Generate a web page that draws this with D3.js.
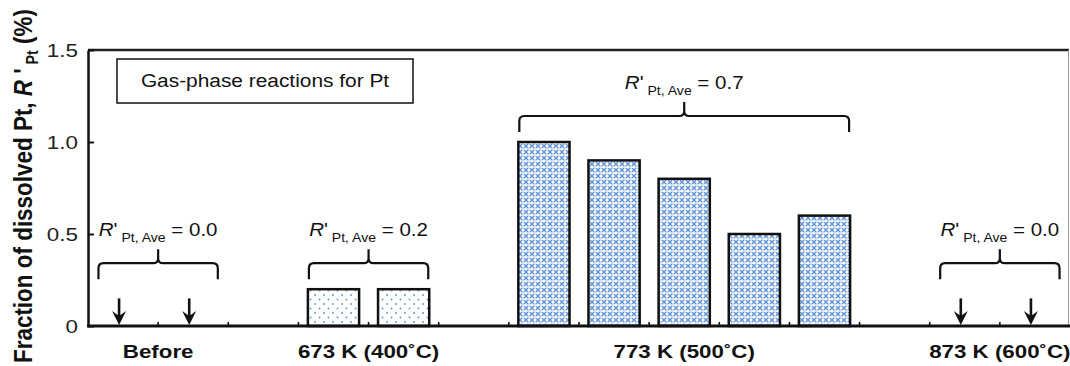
<!DOCTYPE html>
<html>
<head>
<meta charset="utf-8">
<script src="https://cdn.jsdelivr.net/npm/d3@7"></script>
<style>
  html, body { margin: 0; padding: 0; background: #fff; }
  svg { display: block; font-family: "Liberation Sans", Arial, sans-serif; }
</style>
</head>
<body>
<svg id="chart" width="1070" height="366"></svg>
<script>
// data
var groups   = ["Before", "673 K (400˚C)", "773 K (500˚C)", "873 K (600˚C)"];
var before   = [0, 0];
var k673     = [0.2, 0.2];
var k773     = [1.0, 0.9, 0.8, 0.5, 0.6];
var k873     = [0, 0];
var averages = ["0.0", "0.2", "0.7", "0.0"];
var fills    = ["none", "dots", "lattice", "none"];
var yTicks   = [0, 0.5, 1.0, 1.5];
var yTickLabels = ["0", "0.5", "1.0", "1.5"];

var groupValues = [before, k673, k773, k873];

var svg = d3.select("#chart");

var margin = {top: 50, left: 88},
    width  = 982,
    height = 276;

// the original figure is drawn a little wide, so text is stretched sideways
function wideText(parent, x, y, sx) {
	return parent.append("g")
		.attr("transform", `translate(${x}, ${y}) scale(${sx}, 1)`)
		.append("text");
}

// one slot per sample plus one empty slot between groups
var slots = [];
groupValues.forEach(function(vals, gi) {
	vals.forEach(function(v, i) { slots.push({key: gi + "-" + i, group: gi, value: v}); });
	if (gi < groupValues.length - 1) slots.push({key: "gap-" + gi, group: -1, value: null});
});

var x = d3.scaleBand().domain(slots.map(function(d) { return d.key; })).range([0, width]).padding(0);
var y = d3.scaleLinear().domain([0, 1.5]).range([height, 0]);

var barW = x.bandwidth() * 0.73,
    barOff = (x.bandwidth() - barW) / 2;

/* patterns */
var defs = svg.append("defs");
var pd = defs.append("pattern").attr("id", "dots").attr("patternUnits", "userSpaceOnUse")
	.attr("width", 9).attr("height", 9);
pd.append("rect").attr("width", 9).attr("height", 9).attr("fill", "#fff");
pd.append("circle").attr("cx", 2).attr("cy", 2).attr("r", 1).attr("fill", "#6e98d4");
pd.append("circle").attr("cx", 6.5).attr("cy", 6.5).attr("r", 1).attr("fill", "#6e98d4");

var pl = defs.append("pattern").attr("id", "lattice").attr("patternUnits", "userSpaceOnUse")
	.attr("width", 6).attr("height", 6);
pl.append("rect").attr("width", 6).attr("height", 6).attr("fill", "#fff");
pl.append("path").attr("d", "M0,0L6,6M6,0L0,6M-1,5L1,7M5,-1L7,1M-1,1L1,-1M5,7L7,5")
	.attr("stroke", "#5f93d8").attr("stroke-width", 1.4);
pl.append("path").attr("d", "M3,1.6V4.4M1.6,3H4.4")
	.attr("stroke", "#fff").attr("stroke-width", 0.9);

var g = svg.append("g").attr("transform", `translate(${margin.left}, ${margin.top})`);

// frame: top and right
g.append("line").attr("x1", 0).attr("x2", width - 1).attr("y1", 0).attr("y2", 0)
	.style("stroke", "#222").style("stroke-width", 2.5);
g.append("line").attr("x1", width - 1.5).attr("x2", width - 1.5).attr("y1", 0).attr("y2", height)
	.style("stroke", "#999").style("stroke-width", 1);

// bars
var bars = slots.filter(function(d) { return d.group >= 0 && d.value > 0; });
g.selectAll(".bar").data(bars).enter().append("rect")
	.attr("class", "bar")
	.attr("x", function(d) { return x(d.key) + barOff; })
	.attr("y", function(d) { return y(d.value); })
	.attr("width", barW)
	.attr("height", function(d) { return y(0) - y(d.value); })
	.attr("fill", function(d) { return "url(#" + fills[d.group] + ")"; })
	.attr("stroke", "#111")
	.attr("stroke-width", 2.5);

// arrows for zero samples
var zeros = slots.filter(function(d) { return d.group >= 0 && d.value === 0; });
zeros.forEach(function(d) {
	var cx = x(d.key) + x.bandwidth() / 2 - 4,
	    y0 = y(0.15), y1 = y(0) - 1;
	g.append("line").attr("x1", cx).attr("x2", cx).attr("y1", y0).attr("y2", y1 - 8)
		.style("stroke", "#111").style("stroke-width", 2.6);
	g.append("path")
		.attr("d", `M${cx - 7},${y1 - 14}L${cx},${y1}L${cx + 7},${y1 - 14}L${cx},${y1 - 9}Z`)
		.attr("fill", "#111");
});

// braces and average labels
groupValues.forEach(function(vals, gi) {
	var gs = slots.filter(function(d) { return d.group === gi; });
	var x1 = x(gs[0].key) + barOff + 1,
	    x2 = x(gs[gs.length - 1].key) + barOff + barW - 1,
	    xm = (x1 + x2) / 2;
	var base = y(Math.max(d3.max(vals), 0.2));
	var yEnd = base - 10, yTop = base - 26, yPeak = base - 40, r = 5;
	var p = `M${x1},${yEnd}L${x1},${yTop + r}Q${x1},${yTop} ${x1 + r},${yTop}` +
		`L${xm - r},${yTop}Q${xm},${yTop} ${xm},${yTop - r}L${xm},${yPeak}` +
		`M${xm},${yTop - r}Q${xm},${yTop} ${xm + r},${yTop}` +
		`L${x2 - r},${yTop}Q${x2},${yTop} ${x2},${yTop + r}L${x2},${yEnd}`;
	g.append("path").attr("d", p).attr("fill", "none")
		.style("stroke", "#111").style("stroke-width", 2.2);

	var t = wideText(g, xm, base - 53, 1.08)
		.style("text-anchor", "middle")
		.style("font-size", "19px")
		.style("fill", "#111");
	t.append("tspan").style("font-style", "italic").text("R");
	t.append("tspan").text("'");
	t.append("tspan").attr("dy", 6).style("font-size", "13px").text(" Pt, Ave");
	t.append("tspan").attr("dy", -6).text(" = " + averages[gi]);
});

// legend box
g.append("rect").attr("x", 29).attr("y", 9).attr("width", 296).attr("height", 44)
	.attr("fill", "#fff").attr("stroke", "#111").attr("stroke-width", 1.5);
wideText(g, 177, 37, 1.16)
	.style("text-anchor", "middle").style("font-size", "18px").style("fill", "#111")
	.text("Gas-phase reactions for Pt");

// y axis
var yAxis = g.append("g")
	.call(d3.axisLeft(y).tickValues(yTicks).tickSizeInner(-6).tickSizeOuter(0).tickFormat(""));
yAxis.select(".domain").style("stroke", "#111").style("stroke-width", 2.5);
yAxis.selectAll(".tick line").style("stroke", "#111").style("stroke-width", 2);
yTicks.forEach(function(v, i) {
	wideText(g, -10, y(v) + 7, 1.18)
		.style("text-anchor", "end")
		.style("font-size", "19px")
		.style("fill", "#222")
		.text(yTickLabels[i]);
});

// x axis: small ticks at slot boundaries, group labels centred under groups
var bounds = slots.slice(1).map(function(d) { return x(d.key); });
var xAxis = g.append("g").attr("transform", `translate(0, ${height})`);
xAxis.append("line").attr("x1", -1).attr("x2", width).attr("y1", 0).attr("y2", 0)
	.style("stroke", "#111").style("stroke-width", 3);
xAxis.selectAll(".mtick").data(bounds).enter().append("line")
	.attr("x1", function(d) { return d; }).attr("x2", function(d) { return d; })
	.attr("y1", -1).attr("y2", -4)
	.style("stroke", "#111").style("stroke-width", 1.6);

groups.forEach(function(name, gi) {
	var gs = slots.filter(function(d) { return d.group === gi; });
	var cx = (x(gs[0].key) + x(gs[gs.length - 1].key) + x.bandwidth()) / 2;
	wideText(xAxis, cx, 32, 1.24)
		.style("text-anchor", "middle")
		.style("font-size", "18px")
		.style("font-weight", "bold")
		.style("fill", "#111")
		.text(name);
});

// y axis title
var yt = svg.append("g")
	.attr("transform", `translate(32, 186) scale(1.2, 1.02) rotate(-90)`)
	.append("text")
	.style("text-anchor", "middle")
	.style("font-size", "22px")
	.style("font-weight", "bold")
	.style("fill", "#111");
yt.append("tspan").text("Fraction of dissolved Pt, ");
yt.append("tspan").style("font-style", "italic").text("R");
yt.append("tspan").text(" '");
yt.append("tspan").attr("dy", 5).style("font-size", "14px").text(" Pt");
yt.append("tspan").attr("dy", -5).text(" (%)");
</script>
</body>
</html>
